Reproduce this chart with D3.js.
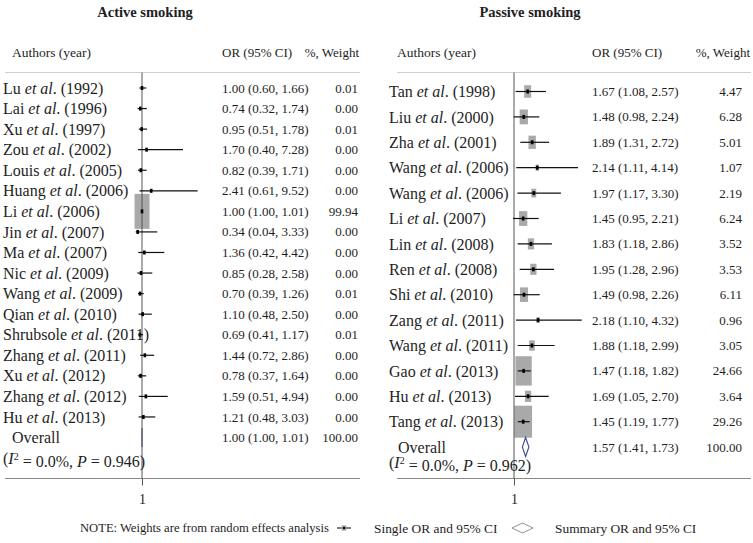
<!DOCTYPE html>
<html>
<head>
<meta charset="utf-8">
<script src="https://cdn.jsdelivr.net/npm/d3@7"></script>
<style>
  html, body { margin: 0; padding: 0; background: #fff; }
  svg { display: block; }
  text { font-family: "Liberation Serif", "DejaVu Serif", serif; fill: #1e1e1e; }
</style>
</head>
<body>
<svg id="chart" width="753" height="543"></svg>
<script>
// ---------------- DATA ----------------
const activeAuthors = ["Lu","Lai","Xu","Zou","Louis","Huang","Li","Jin","Ma","Nic","Wang","Qian","Shrubsole","Zhang","Xu","Zhang","Hu"];
const activeYears   = [1992,1996,1997,2002,2005,2006,2006,2007,2007,2009,2009,2010,2011,2011,2012,2012,2013];
const activeOR      = [1.00,0.74,0.95,1.70,0.82,2.41,1.00,0.34,1.36,0.85,0.70,1.10,0.69,1.44,0.78,1.59,1.21];
const activeLo      = [0.60,0.32,0.51,0.40,0.39,0.61,1.00,0.04,0.42,0.28,0.39,0.48,0.41,0.72,0.37,0.51,0.48];
const activeHi      = [1.66,1.74,1.78,7.28,1.71,9.52,1.01,3.33,4.42,2.58,1.26,2.50,1.17,2.86,1.64,4.94,3.03];
const activeWeight  = [0.01,0.00,0.01,0.00,0.00,0.00,99.94,0.00,0.00,0.00,0.01,0.00,0.01,0.00,0.00,0.00,0.00];
const activeOverall = {or:1.00, lo:1.00, hi:1.01, w:100.00, i2:"0.0%", p:"0.946"};

const passiveAuthors = ["Tan","Liu","Zha","Wang","Wang","Li","Lin","Ren","Shi","Zang","Wang","Gao","Hu","Tang"];
const passiveYears   = [1998,2000,2001,2006,2006,2007,2008,2008,2010,2011,2011,2013,2013,2013];
const passiveOR      = [1.67,1.48,1.89,2.14,1.97,1.45,1.83,1.95,1.49,2.18,1.88,1.47,1.69,1.45];
const passiveLo      = [1.08,0.98,1.31,1.11,1.17,0.95,1.18,1.28,0.98,1.10,1.18,1.18,1.05,1.19];
const passiveHi      = [2.57,2.24,2.72,4.14,3.30,2.21,2.86,2.96,2.26,4.32,2.99,1.82,2.70,1.77];
const passiveWeight  = [4.47,6.28,5.01,1.07,2.19,6.24,3.52,3.53,6.11,0.96,3.05,24.66,3.64,29.26];
const passiveOverall = {or:1.57, lo:1.41, hi:1.73, w:100.00, i2:"0.0%", p:"0.962"};

const refTicks = [1];
const titles = ["Active smoking","Passive smoking"];
const headers = ["Authors (year)","OR (95% CI)","%, Weight"];
const noteText = "NOTE: Weights are from random effects analysis";
const legendLabels = ["Single OR and 95% CI","Summary OR and 95% CI"];

// ---------------- LAYOUT ----------------
const svg = d3.select("#chart");
const fmt = d3.format(".2f");

const panels = [
  {
    title: titles[0], authors: activeAuthors, years: activeYears, or: activeOR, lo: activeLo, hi: activeHi, w: activeWeight, ov: activeOverall,
    xScale: d3.scaleLinear().domain([1, 10]).range([142, 142 + 9 * 6.53]),
    yScale: d3.scaleLinear().domain([0, 16]).range([88, 88 + 16 * 20.56]),
    boxW: 15, boxH: 35,
    titleX: 145, nameX: 3, hdrNameX: 12, orX: 222, wRight: 358,
    ruleX0: 5, ruleX1: 360, overallY: 437.5, i2Y: 458.5
  },
  {
    title: titles[1], authors: passiveAuthors, years: passiveYears, or: passiveOR, lo: passiveLo, hi: passiveHi, w: passiveWeight, ov: passiveOverall,
    xScale: d3.scaleLinear().domain([1, 5]).range([514, 514 + 4 * 20.4]),
    yScale: d3.scaleLinear().domain([0, 13]).range([91.5, 91.5 + 13 * 25.4]),
    boxW: 17.8, boxH: 32,
    titleX: 530, nameX: 389, hdrNameX: 397, orX: 592, wRight: 742,
    ruleX0: 397, ruleX1: 751, overallY: 447, i2Y: 462.5
  }
];

const topY = 72.5, axisY = 478.5;

panels.forEach(p => {
  const g = svg.append("g");
  const x = p.xScale, y = p.yScale;
  const maxW = d3.max(p.w);
  const bw = d3.scaleSqrt().domain([0, maxW]).range([0, p.boxW]);
  const bh = d3.scaleSqrt().domain([0, maxW]).range([0, p.boxH]);

  // title
  g.append("text").attr("x", p.titleX).attr("y", 17).attr("text-anchor", "middle")
    .style("font-weight", "bold").style("font-size", "14.5px").text(p.title);

  // headers
  g.append("text").attr("x", p.hdrNameX).attr("y", 57).style("font-size", "13.5px").text(headers[0]);
  g.append("text").attr("x", p.orX).attr("y", 57).style("font-size", "13px").text(headers[1]);
  g.append("text").attr("x", p.ruleX1 - 1).attr("y", 57).attr("text-anchor", "end").style("font-size", "13px").text(headers[2]);

  // top rule
  g.append("line").attr("x1", p.ruleX0).attr("x2", p.ruleX1).attr("y1", topY).attr("y2", topY)
    .attr("stroke", "#cfcfcf").attr("stroke-width", 1);

  // bottom axis rule
  g.append("line").attr("x1", p.ruleX0).attr("x2", p.ruleX1).attr("y1", axisY).attr("y2", axisY)
    .attr("stroke", "#888").attr("stroke-width", 1);

  const idx = d3.range(p.authors.length);

  // boxes
  g.selectAll("rect.box").data(idx).enter().append("rect").attr("class", "box")
    .attr("x", i => x(p.or[i]) - bw(p.w[i]) / 2)
    .attr("y", i => y(i) - bh(p.w[i]) / 2)
    .attr("width", i => bw(p.w[i]))
    .attr("height", i => bh(p.w[i]))
    .attr("fill", "#a9a9a9");

  // overall diamond
  const oy = p.overallY;
  const ov = p.ov;
  const dh = 9.5;
  g.append("path")
    .attr("d", `M${x(ov.lo)},${oy} L${x(ov.or)},${oy - dh} L${x(ov.hi)},${oy} L${x(ov.or)},${oy + dh} Z`)
    .attr("fill", "none").attr("stroke", "#3a4795").attr("stroke-width", 1.1);

  // reference line at 1 (drawn over the boxes / diamond like the original)
  g.append("line").attr("x1", x(1)).attr("x2", x(1)).attr("y1", topY).attr("y2", axisY)
    .attr("stroke", "#555").attr("stroke-width", 1);

  // axis tick + label
  const axis = d3.axisBottom(x).tickValues(refTicks).tickSize(7).tickSizeOuter(0).tickFormat(d3.format("d"));
  const ag = g.append("g").attr("transform", `translate(0,${axisY})`).call(axis);
  ag.select(".domain").remove();
  ag.selectAll(".tick line").attr("stroke", "#555");
  ag.selectAll(".tick text").attr("dy", "1.1em").style("font-size", "14px")
    .style("font-family", "'Liberation Serif', serif").attr("fill", "#222");

  // CI lines
  g.selectAll("line.ci").data(idx).enter().append("line").attr("class", "ci")
    .attr("x1", i => x(p.lo[i])).attr("x2", i => x(p.hi[i]))
    .attr("y1", i => y(i)).attr("y2", i => y(i))
    .attr("stroke", "#111").attr("stroke-width", 1.2);

  // point estimates
  g.selectAll("rect.pt").data(idx).enter().append("rect").attr("class", "pt")
    .attr("x", i => x(p.or[i]) - 1.3).attr("y", i => y(i) - 2)
    .attr("width", 2.6).attr("height", 4).attr("fill", "#000");

  // study names
  const names = g.selectAll("text.name").data(idx).enter().append("text").attr("class", "name")
    .attr("x", p.nameX).attr("y", i => y(i)).attr("dy", "0.35em").style("font-size", "16px");
  names.append("tspan").text(i => p.authors[i] + " ");
  names.append("tspan").style("font-style", "italic").text("et al");
  names.append("tspan").text(i => ". (" + p.years[i] + ")");

  // OR column
  g.selectAll("text.orv").data(idx).enter().append("text").attr("class", "orv")
    .attr("x", p.orX).attr("y", i => y(i)).attr("dy", "0.35em").style("font-size", "13px")
    .text(i => `${fmt(p.or[i])} (${fmt(p.lo[i])}, ${fmt(p.hi[i])})`);

  // weight column
  g.selectAll("text.wv").data(idx).enter().append("text").attr("class", "wv")
    .attr("x", p.wRight).attr("y", i => y(i)).attr("dy", "0.35em").attr("text-anchor", "end")
    .style("font-size", "13px").text(i => fmt(p.w[i]));

  // overall texts
  g.append("text").attr("x", p.nameX + 9).attr("y", oy).attr("dy", "0.35em").style("font-size", "16px").text("Overall");
  const t2 = g.append("text").attr("x", p.nameX).attr("y", p.i2Y).attr("dy", "0.35em").style("font-size", "16px");
  t2.append("tspan").text("(");
  t2.append("tspan").style("font-style", "italic").text("I");
  t2.append("tspan").attr("dy", "-0.45em").style("font-size", "10px").text("2");
  t2.append("tspan").attr("dy", "0.45em").text(" = " + ov.i2 + ", ");
  t2.append("tspan").style("font-style", "italic").text("P");
  t2.append("tspan").text(" = " + ov.p + ")");

  g.append("text").attr("x", p.orX).attr("y", oy).attr("dy", "0.35em").style("font-size", "13px")
    .text(`${fmt(ov.or)} (${fmt(ov.lo)}, ${fmt(ov.hi)})`);
  g.append("text").attr("x", p.wRight).attr("y", oy).attr("dy", "0.35em").attr("text-anchor", "end")
    .style("font-size", "13px").text(fmt(ov.w));
});

// ---------------- LEGEND ----------------
const ly = 528;
svg.append("text").attr("x", 80).attr("y", ly).attr("dy", "0.35em").style("font-size", "12.6px").text(noteText);
// single OR symbol
svg.append("line").attr("x1", 337).attr("x2", 351).attr("y1", ly).attr("y2", ly).attr("stroke", "#111").attr("stroke-width", 1.1);
svg.append("rect").attr("x", 341.5).attr("y", ly - 2.5).attr("width", 5).attr("height", 5).attr("fill", "#a9a9a9");
svg.append("rect").attr("x", 343).attr("y", ly - 1.2).attr("width", 2.2).attr("height", 2.4).attr("fill", "#000");
svg.append("text").attr("x", 374).attr("y", ly).attr("dy", "0.35em").style("font-size", "13.4px").text(legendLabels[0]);
// diamond symbol
svg.append("path").attr("d", `M512,${ly} L522.5,${ly - 5} L533,${ly} L522.5,${ly + 5} Z`)
  .attr("fill", "none").attr("stroke", "#888").attr("stroke-width", 0.9);
svg.append("text").attr("x", 555).attr("y", ly).attr("dy", "0.35em").style("font-size", "13.4px").text(legendLabels[1]);
</script>
</body>
</html>
